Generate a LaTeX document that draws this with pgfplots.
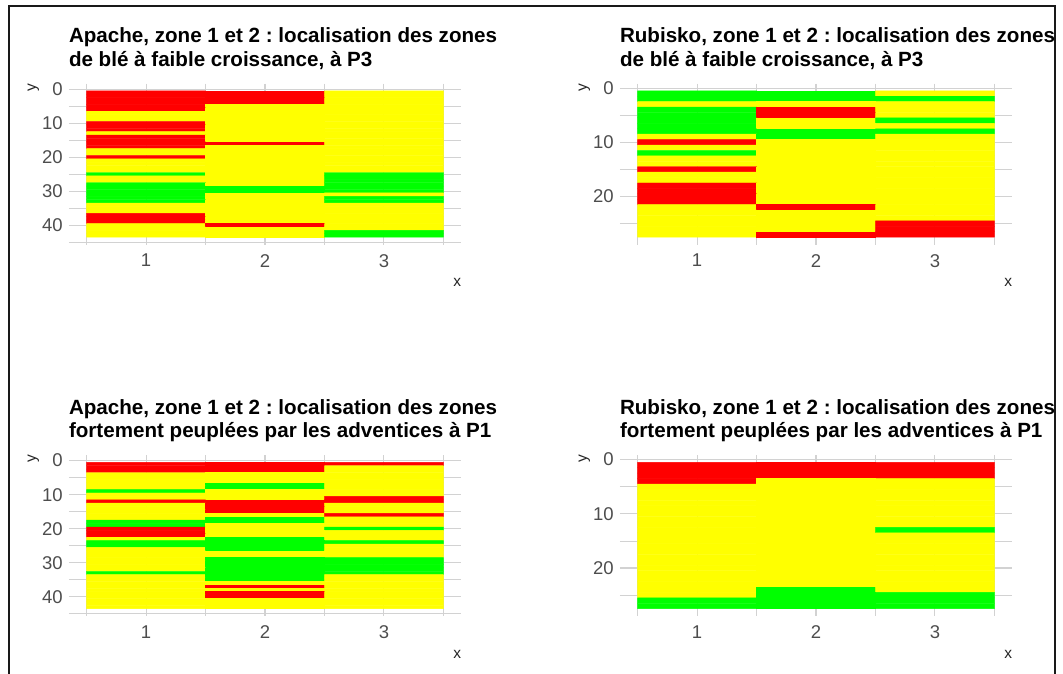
\documentclass[border=0pt]{standalone}
\usepackage{pgfplots}
\pgfplotsset{compat=1.18}
\usepackage{pgfplotstable}
\usepackage{fontspec}
\setmainfont{Liberation Sans}
\frenchspacing
\definecolor{gridgray}{HTML}{D2D2D2}
\definecolor{ticklab}{HTML}{4D4D4D}

% 0 = red, 1 = yellow, 2 = green
\pgfplotstableread[row sep=\\]{
x y c\\
1 1 0\\ 2 1 0\\ 3 1 1\\
1 2 0\\ 2 2 0\\ 3 2 1\\
1 3 0\\ 2 3 0\\ 3 3 1\\
1 4 0\\ 2 4 0\\ 3 4 1\\
1 5 0\\ 2 5 1\\ 3 5 1\\
1 6 0\\ 2 6 1\\ 3 6 1\\
1 7 1\\ 2 7 1\\ 3 7 1\\
1 8 1\\ 2 8 1\\ 3 8 1\\
1 9 1\\ 2 9 1\\ 3 9 1\\
1 10 0\\ 2 10 1\\ 3 10 1\\
1 11 0\\ 2 11 1\\ 3 11 1\\
1 12 0\\ 2 12 1\\ 3 12 1\\
1 13 1\\ 2 13 1\\ 3 13 1\\
1 14 0\\ 2 14 1\\ 3 14 1\\
1 15 0\\ 2 15 1\\ 3 15 1\\
1 16 0\\ 2 16 0\\ 3 16 1\\
1 17 0\\ 2 17 1\\ 3 17 1\\
1 18 1\\ 2 18 1\\ 3 18 1\\
1 19 1\\ 2 19 1\\ 3 19 1\\
1 20 0\\ 2 20 1\\ 3 20 1\\
1 21 1\\ 2 21 1\\ 3 21 1\\
1 22 1\\ 2 22 1\\ 3 22 1\\
1 23 1\\ 2 23 1\\ 3 23 1\\
1 24 1\\ 2 24 1\\ 3 24 1\\
1 25 2\\ 2 25 1\\ 3 25 2\\
1 26 1\\ 2 26 1\\ 3 26 2\\
1 27 1\\ 2 27 1\\ 3 27 2\\
1 28 2\\ 2 28 1\\ 3 28 2\\
1 29 2\\ 2 29 2\\ 3 29 2\\
1 30 2\\ 2 30 2\\ 3 30 2\\
1 31 2\\ 2 31 1\\ 3 31 1\\
1 32 2\\ 2 32 1\\ 3 32 2\\
1 33 2\\ 2 33 1\\ 3 33 2\\
1 34 1\\ 2 34 1\\ 3 34 1\\
1 35 1\\ 2 35 1\\ 3 35 1\\
1 36 1\\ 2 36 1\\ 3 36 1\\
1 37 0\\ 2 37 1\\ 3 37 1\\
1 38 0\\ 2 38 1\\ 3 38 1\\
1 39 0\\ 2 39 1\\ 3 39 1\\
1 40 1\\ 2 40 0\\ 3 40 1\\
1 41 1\\ 2 41 1\\ 3 41 1\\
1 42 1\\ 2 42 1\\ 3 42 2\\
1 43 1\\ 2 43 1\\ 3 43 2\\
}\apacheP

\pgfplotstableread[row sep=\\]{
x y c\\
1 1 2\\ 2 1 2\\ 3 1 1\\
1 2 2\\ 2 2 2\\ 3 2 2\\
1 3 1\\ 2 3 1\\ 3 3 1\\
1 4 2\\ 2 4 0\\ 3 4 1\\
1 5 2\\ 2 5 0\\ 3 5 1\\
1 6 2\\ 2 6 1\\ 3 6 2\\
1 7 2\\ 2 7 1\\ 3 7 1\\
1 8 2\\ 2 8 2\\ 3 8 2\\
1 9 1\\ 2 9 2\\ 3 9 1\\
1 10 0\\ 2 10 1\\ 3 10 1\\
1 11 1\\ 2 11 1\\ 3 11 1\\
1 12 2\\ 2 12 1\\ 3 12 1\\
1 13 1\\ 2 13 1\\ 3 13 1\\
1 14 1\\ 2 14 1\\ 3 14 1\\
1 15 0\\ 2 15 1\\ 3 15 1\\
1 16 1\\ 2 16 1\\ 3 16 1\\
1 17 1\\ 2 17 1\\ 3 17 1\\
1 18 0\\ 2 18 1\\ 3 18 1\\
1 19 0\\ 2 19 1\\ 3 19 1\\
1 20 0\\ 2 20 1\\ 3 20 1\\
1 21 0\\ 2 21 1\\ 3 21 1\\
1 22 1\\ 2 22 0\\ 3 22 1\\
1 23 1\\ 2 23 1\\ 3 23 1\\
1 24 1\\ 2 24 1\\ 3 24 1\\
1 25 1\\ 2 25 1\\ 3 25 0\\
1 26 1\\ 2 26 1\\ 3 26 0\\
1 27 1\\ 2 27 0\\ 3 27 0\\
}\rubiskoP

\pgfplotstableread[row sep=\\]{
x y c\\
1 1 0\\ 2 1 0\\ 3 1 0\\
1 2 0\\ 2 2 0\\ 3 2 1\\
1 3 0\\ 2 3 0\\ 3 3 1\\
1 4 1\\ 2 4 1\\ 3 4 1\\
1 5 1\\ 2 5 1\\ 3 5 1\\
1 6 1\\ 2 6 1\\ 3 6 1\\
1 7 1\\ 2 7 2\\ 3 7 1\\
1 8 1\\ 2 8 2\\ 3 8 1\\
1 9 2\\ 2 9 1\\ 3 9 1\\
1 10 1\\ 2 10 1\\ 3 10 1\\
1 11 1\\ 2 11 1\\ 3 11 0\\
1 12 0\\ 2 12 0\\ 3 12 0\\
1 13 1\\ 2 13 0\\ 3 13 1\\
1 14 1\\ 2 14 0\\ 3 14 1\\
1 15 1\\ 2 15 0\\ 3 15 1\\
1 16 1\\ 2 16 1\\ 3 16 0\\
1 17 1\\ 2 17 2\\ 3 17 1\\
1 18 2\\ 2 18 2\\ 3 18 1\\
1 19 2\\ 2 19 1\\ 3 19 1\\
1 20 0\\ 2 20 1\\ 3 20 2\\
1 21 0\\ 2 21 1\\ 3 21 1\\
1 22 0\\ 2 22 1\\ 3 22 1\\
1 23 1\\ 2 23 2\\ 3 23 1\\
1 24 2\\ 2 24 2\\ 3 24 2\\
1 25 2\\ 2 25 2\\ 3 25 1\\
1 26 1\\ 2 26 2\\ 3 26 1\\
1 27 1\\ 2 27 1\\ 3 27 1\\
1 28 1\\ 2 28 1\\ 3 28 1\\
1 29 1\\ 2 29 2\\ 3 29 2\\
1 30 1\\ 2 30 2\\ 3 30 2\\
1 31 1\\ 2 31 2\\ 3 31 2\\
1 32 1\\ 2 32 2\\ 3 32 2\\
1 33 2\\ 2 33 2\\ 3 33 2\\
1 34 1\\ 2 34 2\\ 3 34 1\\
1 35 1\\ 2 35 2\\ 3 35 1\\
1 36 1\\ 2 36 1\\ 3 36 1\\
1 37 1\\ 2 37 0\\ 3 37 1\\
1 38 1\\ 2 38 1\\ 3 38 1\\
1 39 1\\ 2 39 0\\ 3 39 1\\
1 40 1\\ 2 40 0\\ 3 40 1\\
1 41 1\\ 2 41 1\\ 3 41 1\\
1 42 1\\ 2 42 1\\ 3 42 1\\
1 43 1\\ 2 43 1\\ 3 43 1\\
}\apacheA

\pgfplotstableread[row sep=\\]{
x y c\\
1 1 0\\ 2 1 0\\ 3 1 0\\
1 2 0\\ 2 2 0\\ 3 2 0\\
1 3 0\\ 2 3 0\\ 3 3 0\\
1 4 0\\ 2 4 1\\ 3 4 1\\
1 5 1\\ 2 5 1\\ 3 5 1\\
1 6 1\\ 2 6 1\\ 3 6 1\\
1 7 1\\ 2 7 1\\ 3 7 1\\
1 8 1\\ 2 8 1\\ 3 8 1\\
1 9 1\\ 2 9 1\\ 3 9 1\\
1 10 1\\ 2 10 1\\ 3 10 1\\
1 11 1\\ 2 11 1\\ 3 11 1\\
1 12 1\\ 2 12 1\\ 3 12 1\\
1 13 1\\ 2 13 1\\ 3 13 2\\
1 14 1\\ 2 14 1\\ 3 14 1\\
1 15 1\\ 2 15 1\\ 3 15 1\\
1 16 1\\ 2 16 1\\ 3 16 1\\
1 17 1\\ 2 17 1\\ 3 17 1\\
1 18 1\\ 2 18 1\\ 3 18 1\\
1 19 1\\ 2 19 1\\ 3 19 1\\
1 20 1\\ 2 20 1\\ 3 20 1\\
1 21 1\\ 2 21 1\\ 3 21 1\\
1 22 1\\ 2 22 1\\ 3 22 1\\
1 23 1\\ 2 23 1\\ 3 23 1\\
1 24 1\\ 2 24 2\\ 3 24 1\\
1 25 1\\ 2 25 2\\ 3 25 2\\
1 26 2\\ 2 26 2\\ 3 26 2\\
1 27 2\\ 2 27 2\\ 3 27 2\\
}\rubiskoA

\pgfplotsset{
  tilepanel/.style={
    scale only axis, width=392.4pt, height=161pt, anchor=north west,
    xmin=0.35, xmax=3.65, enlargelimits=false, y dir=reverse,
    xtick={1,2,3}, minor xtick={0.5,1.5,2.5,3.5},
    axis line style={draw=none}, tick style={draw=none},
    major tick length=0pt, minor tick length=0pt,
    grid=both,
    major grid style={color=gridgray, line width=1.1pt},
    minor grid style={color=gridgray, line width=0.7pt},
    /pgf/number format/assume math mode=true,
    tick label style={font=\fontsize{18.5}{20}\selectfont, text=ticklab},
    yticklabel style={anchor=east, inner sep=0pt, xshift=-6pt},
    xticklabel style={anchor=north, inner sep=0pt, yshift=-9.5pt},
    colormap={tiles}{rgb255=(255,0,0) rgb255=(255,255,0) rgb255=(0,255,0)},
    colormap access=direct,
  },
  apacheax/.style={ymin=-1.65, ymax=45.65, ytick={0,10,20,30,40}, minor ytick={5,15,25,35,45}},
  rubiskoax/.style={ymin=-0.85, ymax=28.85, ytick={0,10,20}, minor ytick={5,15,25}},
  tiles/.style={matrix plot*, mesh/cols=3, point meta=explicit},
}

\newcommand{\ttl}{\fontsize{20.6}{23}\selectfont\bfseries}
\newcommand{\axt}{\fontsize{15.5}{16}\selectfont}

\begin{document}
\begin{tikzpicture}
\useasboundingbox (0pt,-673pt) rectangle (1063pt,0pt);

\begin{axis}[tilepanel, apacheax, at={(68.8pt,-83.5pt)}]
\addplot[tiles] table[x=x, y=y, meta=c] {\apacheP};
\end{axis}
\begin{axis}[tilepanel, rubiskoax, at={(619.8pt,-83.5pt)}]
\addplot[tiles] table[x=x, y=y, meta=c] {\rubiskoP};
\end{axis}
\begin{axis}[tilepanel, apacheax, at={(68.8pt,-455pt)}]
\addplot[tiles] table[x=x, y=y, meta=c] {\apacheA};
\end{axis}
\begin{axis}[tilepanel, rubiskoax, at={(619.8pt,-455pt)}]
\addplot[tiles] table[x=x, y=y, meta=c] {\rubiskoA};
\end{axis}

% titles
\foreach \px/\nm in {68.8/Apache, 619.8/Rubisko}{
  \node[anchor=base west, inner sep=0pt, font=\ttl] at (\px pt,-42.7pt) {\nm, zone 1 et 2 : localisation des zones};
  \node[anchor=base west, inner sep=0pt, font=\ttl] at (\px pt,-66pt) {de blé à faible croissance, à P3};
  \node[anchor=base west, inner sep=0pt, font=\ttl] at (\px pt,-414.2pt) {\nm, zone 1 et 2 : localisation des zones};
  \node[anchor=base west, inner sep=0pt, font=\ttl] at (\px pt,-437.5pt) {fortement peuplées par les adventices à P1};
}
% axis titles
\foreach \px in {68.8, 619.8}{
  \node[rotate=90, anchor=base east, inner sep=0pt, font=\axt, text=black!85] at (\px pt-33pt,-83.5pt) {y};
  \node[rotate=90, anchor=base east, inner sep=0pt, font=\axt, text=black!85] at (\px pt-33pt,-455pt) {y};
  \node[anchor=base east, inner sep=0pt, font=\axt, text=black!85] at (\px pt+392.4pt,-286.5pt) {x};
  \node[anchor=base east, inner sep=0pt, font=\axt, text=black!85] at (\px pt+392.4pt,-658pt) {x};
}
% frame
\draw[line width=2pt, color=black!90] (9pt,-680pt) -- (9pt,-5.7pt) -- (1054.5pt,-5.7pt) -- (1054.5pt,-680pt);
\end{tikzpicture}
\end{document}
